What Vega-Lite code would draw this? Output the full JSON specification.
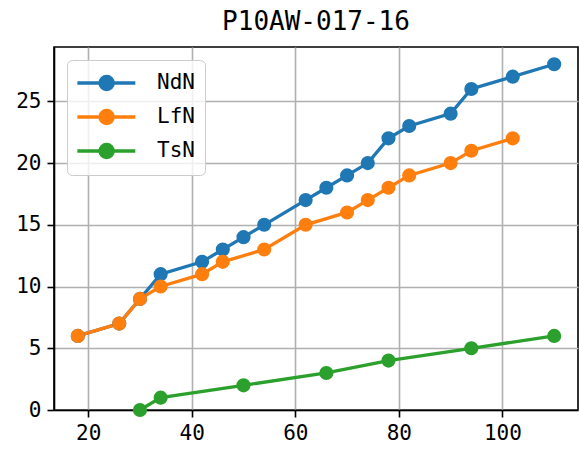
{
  "$schema": "https://vega.github.io/schema/vega-lite/v6.json",
  "autosize": {"type": "none"},
  "padding": {"left": 54, "top": 47, "right": 1, "bottom": 44},
  "width": 524,
  "height": 363,
  "background": "white",
  "title": {"text": "P10AW-017-16", "font": "DejaVu Sans Mono", "fontSize": 26, "fontWeight": "normal", "color": "black", "offset": 12, "anchor": "middle"},
  "data": {"values": [
    {"series": "NdN", "x": 18, "y": 6},
    {"series": "NdN", "x": 26, "y": 7},
    {"series": "NdN", "x": 30, "y": 9},
    {"series": "NdN", "x": 34, "y": 11},
    {"series": "NdN", "x": 42, "y": 12},
    {"series": "NdN", "x": 46, "y": 13},
    {"series": "NdN", "x": 50, "y": 14},
    {"series": "NdN", "x": 54, "y": 15},
    {"series": "NdN", "x": 62, "y": 17},
    {"series": "NdN", "x": 66, "y": 18},
    {"series": "NdN", "x": 70, "y": 19},
    {"series": "NdN", "x": 74, "y": 20},
    {"series": "NdN", "x": 78, "y": 22},
    {"series": "NdN", "x": 82, "y": 23},
    {"series": "NdN", "x": 90, "y": 24},
    {"series": "NdN", "x": 94, "y": 26},
    {"series": "NdN", "x": 102, "y": 27},
    {"series": "NdN", "x": 110, "y": 28},
    {"series": "LfN", "x": 18, "y": 6},
    {"series": "LfN", "x": 26, "y": 7},
    {"series": "LfN", "x": 30, "y": 9},
    {"series": "LfN", "x": 34, "y": 10},
    {"series": "LfN", "x": 42, "y": 11},
    {"series": "LfN", "x": 46, "y": 12},
    {"series": "LfN", "x": 54, "y": 13},
    {"series": "LfN", "x": 62, "y": 15},
    {"series": "LfN", "x": 70, "y": 16},
    {"series": "LfN", "x": 74, "y": 17},
    {"series": "LfN", "x": 78, "y": 18},
    {"series": "LfN", "x": 82, "y": 19},
    {"series": "LfN", "x": 90, "y": 20},
    {"series": "LfN", "x": 94, "y": 21},
    {"series": "LfN", "x": 102, "y": 22},
    {"series": "TsN", "x": 30, "y": 0},
    {"series": "TsN", "x": 34, "y": 1},
    {"series": "TsN", "x": 50, "y": 2},
    {"series": "TsN", "x": 66, "y": 3},
    {"series": "TsN", "x": 78, "y": 4},
    {"series": "TsN", "x": 94, "y": 5},
    {"series": "TsN", "x": 110, "y": 6}
  ]},
  "encoding": {
    "x": {"field": "x", "type": "quantitative", "scale": {"domain": [13.4, 114.6], "nice": false, "zero": false},
      "axis": {"values": [20, 40, 60, 80, 100], "title": null, "grid": true, "labelPadding": 5}},
    "y": {"field": "y", "type": "quantitative", "scale": {"domain": [0, 29.4], "nice": false, "zero": false},
      "axis": {"values": [0, 5, 10, 15, 20, 25], "title": null, "grid": true, "labelPadding": 6}},
    "color": {"field": "series", "type": "nominal",
      "scale": {"domain": ["NdN", "LfN", "TsN"], "range": ["#1f77b4", "#ff7f0e", "#2ca02c"]},
      "legend": {
        "title": null, "orient": "none", "legendX": 13, "legendY": 13,
        "symbolType": "M -1.15 0 L 4.12 0 M 2.11 0 A 0.6 0.6 0 1 1 0.91 0 A 0.6 0.6 0 1 1 2.11 0 Z",
        "symbolSize": 484, "symbolStrokeWidth": 3.3, "symbolOpacity": 1,
        "labelFont": "DejaVu Sans Mono", "labelFontSize": 21, "labelColor": "black", "labelOffset": 54,
        "rowPadding": 6, "padding": 10, "cornerRadius": 5,
        "fillColor": "rgba(255,255,255,0.8)", "strokeColor": "#cccccc",
        "encode": {"symbols": {"update": {"stroke": {"field": "value", "scale": "color"}, "fill": {"field": "value", "scale": "color"}, "strokeWidth": {"value": 3.3}}}}
      }}
  },
  "layer": [
    {"mark": {"type": "line", "strokeWidth": 3.3}},
    {"mark": {"type": "point", "filled": true, "size": 200, "opacity": 1, "shape": "circle"}}
  ],
  "config": {
    "view": {"stroke": "black", "strokeWidth": 1.6},
    "axis": {"gridColor": "#b0b0b0", "gridWidth": 1.6, "gridOpacity": 1, "domainColor": "black", "domainWidth": 1.6,
      "tickColor": "black", "tickWidth": 1.6, "tickSize": 7, "labelFont": "DejaVu Sans Mono", "labelFontSize": 21, "labelColor": "black"}
  }
}
